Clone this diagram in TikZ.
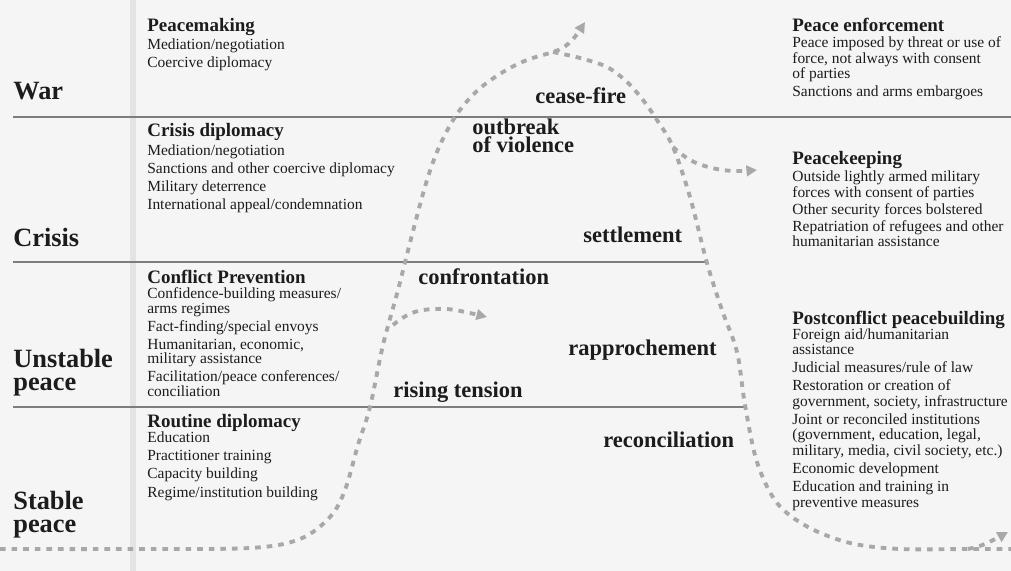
\documentclass[tikz,border=0pt]{standalone}
\usepackage{fontspec}
\setmainfont{Liberation Serif}
\usepackage{xcolor}
\usepackage{tikz}
\usetikzlibrary{arrows.meta}

\definecolor{ink}{RGB}{28,28,28}
\definecolor{rulegray}{RGB}{125,125,125}
\definecolor{trailgray}{RGB}{168,168,168}
\definecolor{paper}{RGB}{245,245,245}
\definecolor{fold}{RGB}{228,228,228}

% multi-line nodes sit on the baseline of their last line
\tikzset{
    state/.style={font=\fontsize{15}{13}\selectfont\bfseries, align=left, anchor=base west, inner sep=0pt, text=ink},
    phase/.style={font=\fontsize{12.8}{10.8}\selectfont\bfseries, align=left, anchor=base west, inner sep=0pt, text=ink},
    head/.style={font=\fontsize{10.8}{11}\selectfont\bfseries, anchor=base west, inner sep=0pt, text=ink},
    items/.style={font=\fontsize{8.8}{8.8}\selectfont, align=left, anchor=base west, inner sep=0pt, text=ink},
    divider/.style={draw=rulegray, line width=1.1pt},
    trail/.style={draw=trailgray, line width=2.2pt, dash pattern=on 3.2pt off 3.4pt},
    trailtip/.style={-{Triangle[length=6pt,width=6pt]}}
}

\begin{document}
\begin{tikzpicture}[x=0.2mm,y=-0.2mm]
    \fill[paper] (0,0) rectangle (1011,571);
    \useasboundingbox (0,0) rectangle (1011,571);
    \draw[fold, line width=3pt] (133,0) -- (133,571);

    % dividing lines
    \draw[divider] (13,117) -- (1011,117);
    \draw[divider] (13,262) -- (707,262);
    \draw[divider] (13,407) -- (745,407);

    % conflict states
    \node[state] (war) at (13,100) {War};
    \node[state] (crisis) at (13,247) {Crisis};
    \node[state] (unstable) at (13,390) {Unstable\\peace};
    \node[state] (stable) at (13,532) {Stable\\peace};

    % left column
    \node[head] (peacemaking) at (147,32) {Peacemaking};
    \node[items] (peacemaking-list) at (147,68) {Mediation/negotiation\\[1.5pt]Coercive diplomacy};
    \node[head] (crisisdip) at (147,137) {Crisis diplomacy};
    \node[items] (crisisdip-list) at (147,210) {Mediation/negotiation\\[1.5pt]Sanctions and other coercive diplomacy\\[1.5pt]Military deterrence\\[1.5pt]International appeal/condemnation};
    \node[head] (prevention) at (147,284) {Conflict Prevention};
    \node[items] (prevention-list) at (147,396) {Confidence-building measures/\\[-0.5pt]arms regimes\\[1.3pt]Fact-finding/special envoys\\[1.3pt]Humanitarian, economic,\\[-0.5pt]military assistance\\[1.3pt]Facilitation/peace conferences/\\[-0.5pt]conciliation};
    \node[head] (routine) at (147,427) {Routine diplomacy};
    \node[items] (routine-list) at (147,497) {Education\\[1.5pt]Practitioner training\\[1.5pt]Capacity building\\[1.5pt]Regime/institution building};

    % right column
    \node[head] (enforcement) at (792,32) {Peace enforcement};
    \node[items] (enforcement-list) at (792,97) {Peace imposed by threat or use of\\force, not always with consent\\of parties\\[1.5pt]Sanctions and arms embargoes};
    \node[head] (keeping) at (792,165) {Peacekeeping};
    \node[items] (keeping-list) at (792,247) {Outside lightly armed military\\forces with consent of parties\\[1pt]Other security forces bolstered\\[1pt]Repatriation of refugees and other\\humanitarian assistance};
    \node[head] (building) at (792,325) {Postconflict peacebuilding};
    \node[items] (building-list) at (792,507) {Foreign aid/humanitarian\\assistance\\[1.5pt]Judicial measures/rule of law\\[1.5pt]Restoration or creation of\\government, society, infrastructure\\[1.5pt]Joint or reconciled institutions\\(government, education, legal,\\military, media, civil society, etc.)\\[1.5pt]Economic development\\[1.5pt]Education and training in\\preventive measures};

    % phases of the conflict
    \node[phase] (ceasefire) at (535,104) {cease-fire};
    \node[phase] (outbreak) at (472,153) {outbreak\\of violence};
    \node[phase] (settlement) at (583,243) {settlement};
    \node[phase] (confrontation) at (418,285) {confrontation};
    \node[phase] (rapprochement) at (568,355) {rapprochement};
    \node[phase] (tension) at (393,397) {rising tension};
    \node[phase] (reconciliation) at (603,447) {reconciliation};

    % course of the conflict
    \coordinate (calm) at (0,549);
    \coordinate (peak) at (553,52);
    \coordinate (split) at (673,147);
    \coordinate (fork) at (393,325);
    \coordinate (rest) at (968,549);
    \draw[trail, trailtip] plot[smooth, tension=0.55] coordinates {(calm) (130,549) (250,548) (300,539) (330,517) (345,490) (358,445) (370,407) (383,345) (398,290) (412,235) (427,180) (440,145) (457,114) (478,90) (503,72) (527,60) (peak) (564,47) (574,38) (585,22)};
    \draw[trail] plot[smooth, tension=0.55] coordinates {(peak) (580,58) (607,67) (627,82) (643,100) (657,120) (split) (690,197) (707,263) (722,310) (737,352) (745,405) (757,462) (777,503) (808,527) (850,543) (900,549) (rest) (1011,549)};
    \draw[trail, trailtip] plot[smooth, tension=0.6] coordinates {(fork) (404,317) (418,311) (436,309) (455,310) (487,317)};
    \draw[trail, trailtip] plot[smooth, tension=0.6] coordinates {(split) (690,160) (712,168) (734,171) (757,170)};
    \draw[trail, trailtip] plot[smooth, tension=0.6] coordinates {(rest) (985,544) (1008,532)};
\end{tikzpicture}
\end{document}
